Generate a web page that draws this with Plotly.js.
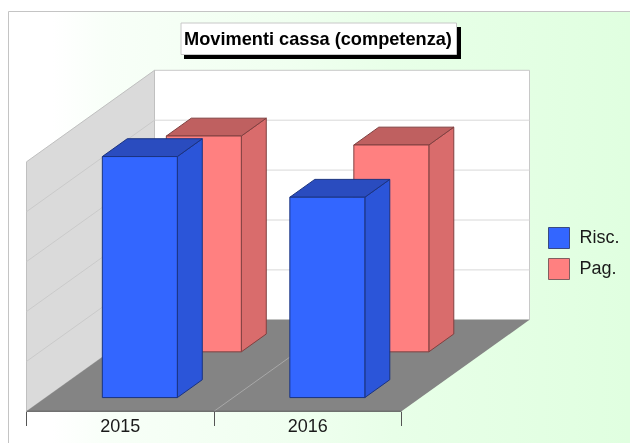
<!DOCTYPE html>
<html><head><meta charset="utf-8">
<script src="https://cdn.plot.ly/plotly-3.0.1.min.js"></script>
<style>html,body{margin:0;padding:0;background:#fff}#c{width:630px;height:443px;filter:blur(0.3px)}</style>
</head><body><div id="c"></div>
<script>
const categories = ['2015', '2016'];
const seriesNames = ['Risc.', 'Pag.'];
const risc = [4.83, 4.015];
const pag = [4.325, 4.145];
const titleText = 'Movimenti cassa (competenza)';

const W = 630, H = 443, FONT = '"Liberation Sans", Arial, sans-serif';
const PX_X = 187.5, PX_Y = 49.9, ORG_X = 26.5, ORG_Y = 411.3;
const DX = 128 / PX_X, DY = 91.5 / PX_Y, VMAX = 5;
const toX = px => (px - ORG_X) / PX_X, toY = py => (ORG_Y - py) / PX_Y;
const proj = (c, d, v) => [c + d * DX, v + d * DY];

function poly(points, fill, line, width) {
  const p = points.concat([points[0]]);
  return {x: p.map(q => q[0]), y: p.map(q => q[1]), mode: 'lines', fill: 'toself', fillcolor: fill,
    line: {color: line || fill, width: line ? (width || 1) : 0}, showlegend: false, hoverinfo: 'skip'};
}
function seg(a, b, color) {
  return {x: [a[0], b[0]], y: [a[1], b[1]], mode: 'lines', line: {color: color, width: 1},
    showlegend: false, hoverinfo: 'skip'};
}
function bar(cat, value, d0, d1, c) {
  const c0 = cat + 0.302, c1 = cat + 0.702;
  return [
    poly([proj(c1, d0, 0), proj(c1, d1, 0), proj(c1, d1, value), proj(c1, d0, value)], c.side, c.edge),
    poly([proj(c0, d0, value), proj(c1, d0, value), proj(c1, d1, value), proj(c0, d1, value)], c.top, c.edge),
    poly([proj(c0, d0, 0), proj(c1, d0, 0), proj(c1, d0, value), proj(c0, d0, value)], c.front, c.edge)
  ];
}

const BLUE = {front: '#3366ff', side: '#2b55d9', top: '#2a4cbf', edge: '#1a3380'};
const PINK = {front: '#ff8080', side: '#d96c6c', top: '#bf6060', edge: '#804040'};
const nCat = categories.length;
const traces = [];

// page gradient panel
const bg = poly([[toX(8.5), toY(11.5)], [toX(W), toY(11.5)], [toX(W), toY(H)], [toX(8.5), toY(H)]], '#fff');
bg.fillgradient = {type: 'horizontal', colorscale: [[0, '#ffffff'], [0.07, '#ffffff'], [0.16, '#f8fff8'], [0.45, '#f0fff0'], [0.62, '#e8ffe8'], [1, '#e0ffe0']]};
delete bg.fillcolor;
traces.push(bg);
traces.push(seg([toX(8.5), toY(H)], [toX(8.5), toY(11.5)], '#c4c4c4'));
traces.push(seg([toX(8.5), toY(11.5)], [toX(W), toY(11.5)], '#c4c4c4'));

// walls and floor
traces.push(poly([proj(0, 1, 0), proj(nCat, 1, 0), proj(nCat, 1, VMAX), proj(0, 1, VMAX)], '#ffffff', '#c8c8c8'));
traces.push(poly([proj(0, 0, 0), proj(0, 1, 0), proj(0, 1, VMAX), proj(0, 0, VMAX)], '#dadada', '#c0c0c0'));
traces.push(poly([proj(0, 0, 0), proj(nCat, 0, 0), proj(nCat, 1, 0), proj(0, 1, 0)], '#848484'));
for (let v = 1; v < VMAX; v++) {
  traces.push(seg(proj(0, 1, v), proj(nCat, 1, v), '#d8d8d8'));
  traces.push(seg(proj(0, 0, v), proj(0, 1, v), '#cacaca'));
}
for (let c = 1; c < nCat; c++) traces.push(seg(proj(c, 0, 0), proj(c, 1, 0), '#a8a8a8'));

// bars, back row first
categories.forEach((_, i) => bar(i, pag[i], 0.65, 0.845, PINK).forEach(t => traces.push(t)));
categories.forEach((_, i) => bar(i, risc[i], 0.15, 0.345, BLUE).forEach(t => traces.push(t)));

// axis baseline
traces.push(seg(proj(0, 0, 0), proj(nCat, 0, 0), '#555555'));

// legend
[[BLUE, 238], [PINK, 269]].forEach(([c, py], i) => {
  traces.push({x: [toX(559)], y: [toY(py)], mode: 'markers', name: seriesNames[i],
    marker: {symbol: 'square', size: 21, color: c.front, line: {color: c === BLUE ? '#3a4a80' : '#806060', width: 1}},
    showlegend: false, hoverinfo: 'name'});
  traces.push({x: [toX(579.5)], y: [toY(py)], mode: 'text', text: [seriesNames[i]],
    textposition: 'middle right', textfont: {family: FONT, size: 18, color: '#1a1a1a'},
    showlegend: false, hoverinfo: 'skip'});
});

const fx = px => px / W, fy = py => 1 - py / H;
const layout = {
  width: W, height: H, margin: {l: 0, r: 0, t: 0, b: 0}, paper_bgcolor: '#ffffff', plot_bgcolor: 'rgba(0,0,0,0)',
  showlegend: false, hovermode: 'closest',
  title: {text: titleText, x: fx(318), y: fy(38.5), xref: 'paper', yref: 'paper', xanchor: 'center', yanchor: 'middle',
    font: {family: FONT, size: 18.2, weight: 700, color: '#000000'}, pad: {t: 0, b: 0, l: 0, r: 0}},
  xaxis: {range: [toX(0), toX(W)], anchor: 'free', position: (H - ORG_Y) / H, showgrid: false, zeroline: false, showline: false,
    tickmode: 'array', tickvals: categories.map((_, i) => i + 0.5), ticktext: categories, ticks: '', ticklen: 0, ticklabelstandoff: 2,
    tickfont: {family: FONT, size: 18, color: '#1a1a1a'},
    minor: {tickmode: 'array', tickvals: [0, 1, 2], ticks: 'outside', ticklen: 14, tickwidth: 1, tickcolor: '#555555', showgrid: false}},
  yaxis: {range: [toY(H), toY(0)], visible: false, fixedrange: true},
  shapes: [
    {type: 'rect', xref: 'paper', yref: 'paper', x0: fx(184), x1: fx(461), y0: fy(27), y1: fy(59), fillcolor: '#000000', line: {width: 0}, layer: 'above'},
    {type: 'rect', xref: 'paper', yref: 'paper', x0: fx(181), x1: fx(456.5), y0: fy(23), y1: fy(54.5), fillcolor: '#ffffff', line: {color: '#c8c8c8', width: 1}, layer: 'above'}
  ]
};
Plotly.newPlot('c', traces, layout, {displayModeBar: false, staticPlot: true});
</script></body></html>
